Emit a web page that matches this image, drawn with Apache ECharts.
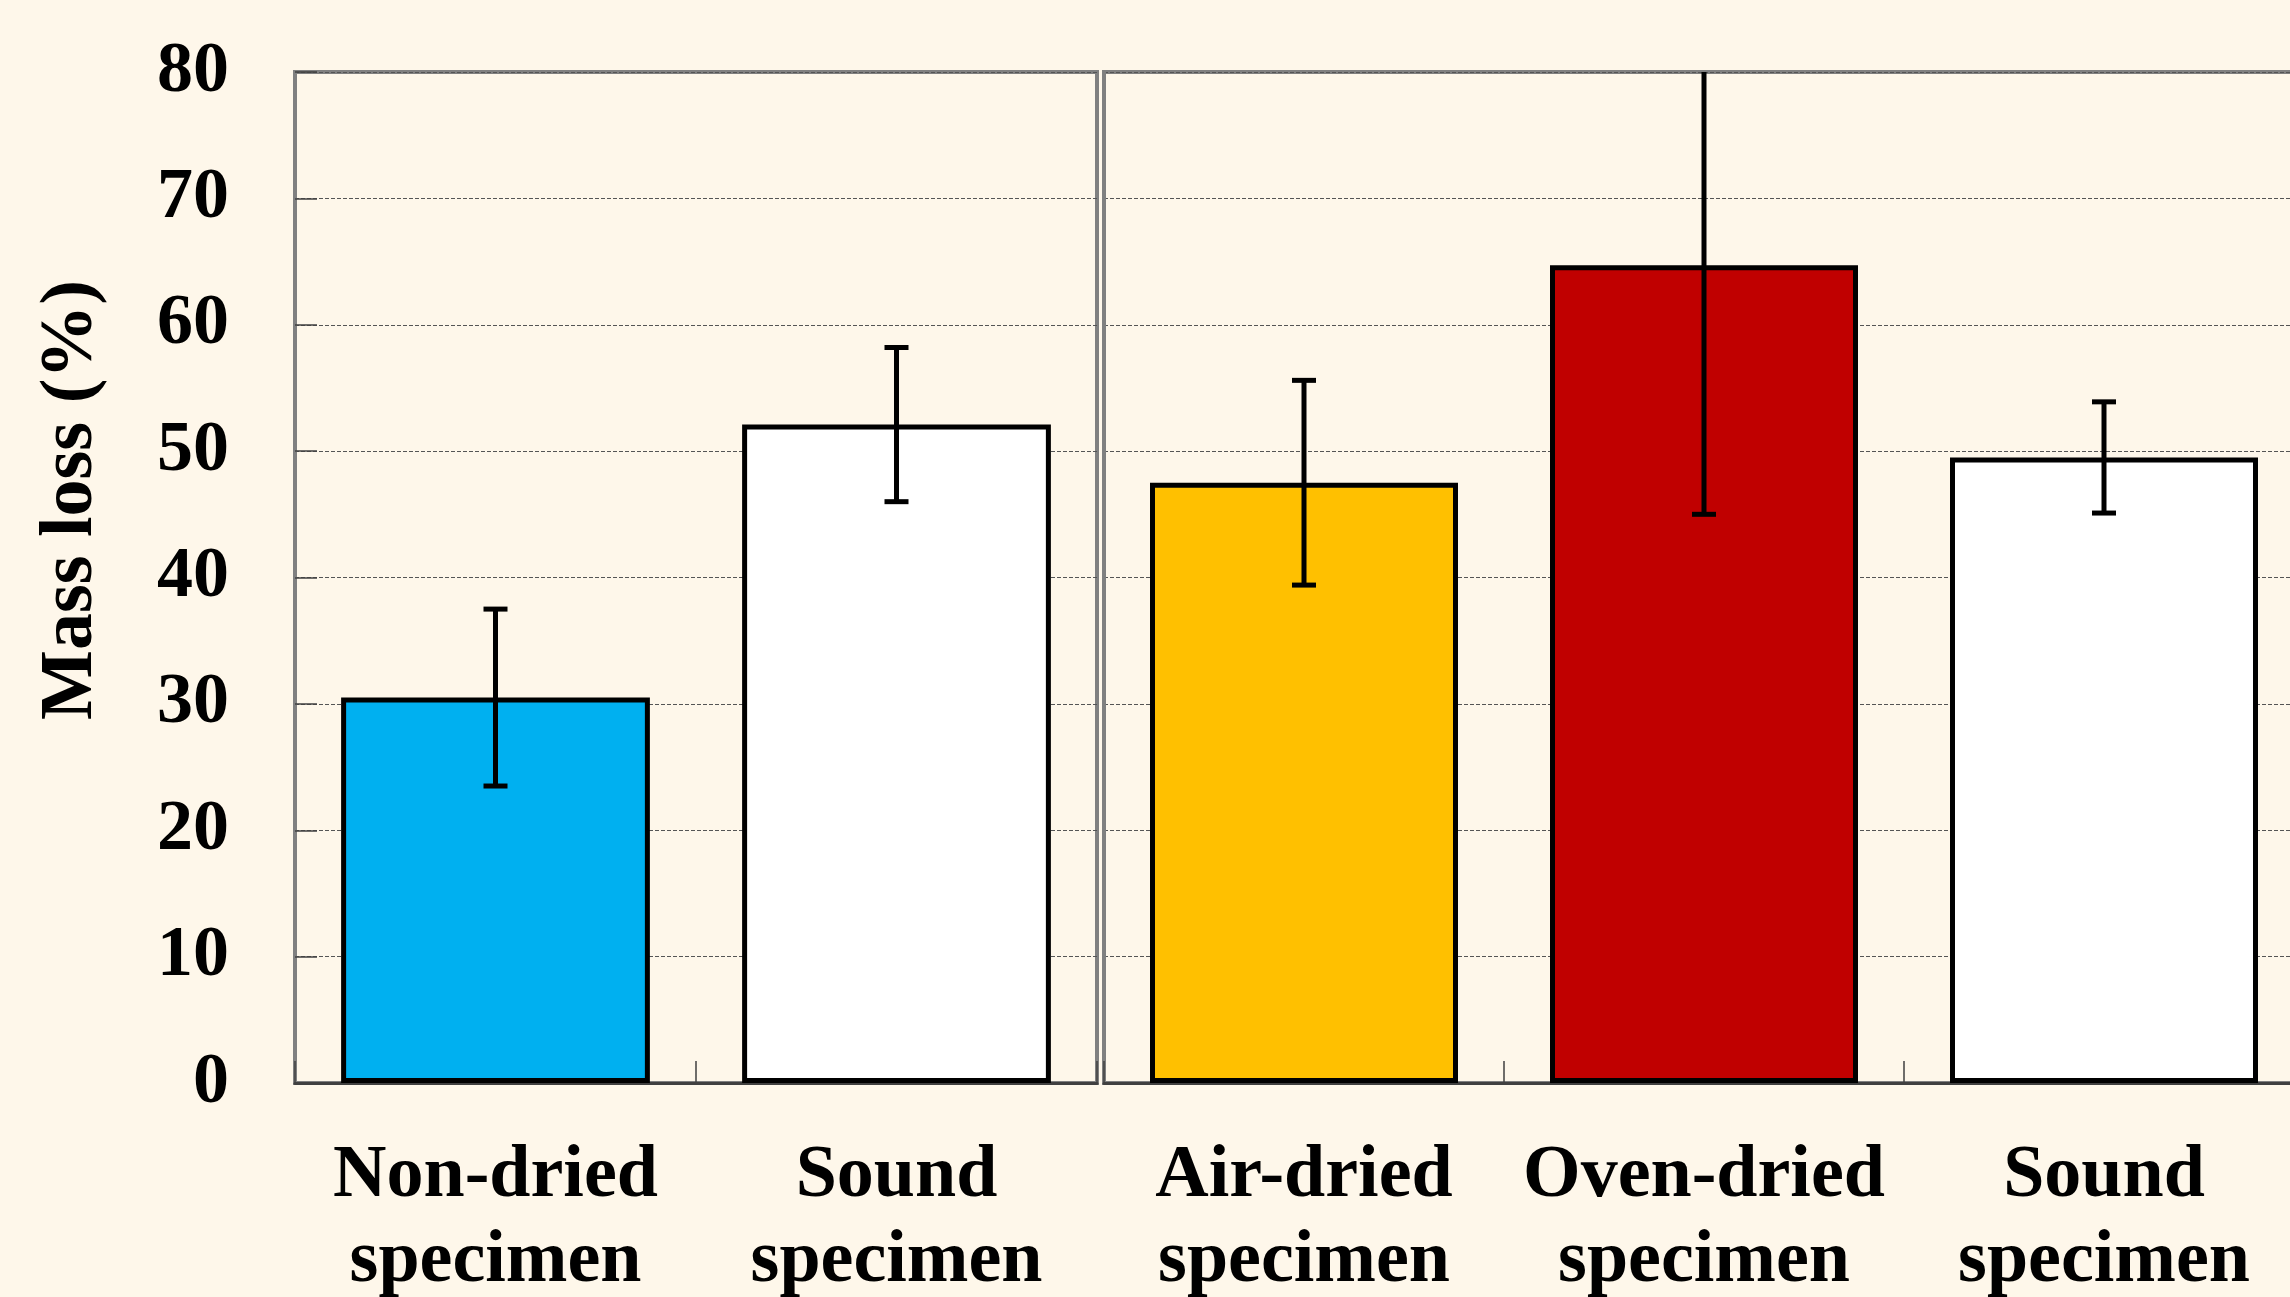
<!DOCTYPE html>
<html>
<head>
<meta charset="utf-8">
<script src="https://cdn.jsdelivr.net/npm/echarts@6/dist/echarts.min.js"></script>
<style>
html,body{margin:0;padding:0;background:#FEF7EA;}
#chart{width:2290px;height:1297px;}
</style>
</head>
<body>
<div id="chart"></div>
<script>
// ---- data ----
const leftCategories = ['Non-dried\nspecimen', 'Sound\nspecimen'];
const leftMeans = [30.5, 52.1];
const leftErrors = [7.0, 6.1];
const rightCategories = ['Air-dried\nspecimen', 'Oven-dried\nspecimen', 'Sound\nspecimen'];
const rightMeans = [47.5, 64.7, 49.5];
const rightErrors = [8.1, 19.7, 4.4];
const yMin = 0, yMax = 80, yStep = 10;
const yAxisTitle = 'Mass loss (%)';

// ---- styles ----
const leftColors = ['#00B0F0', '#FFFFFF'];
const rightColors = ['#FFC000', '#C00000', '#FFFFFF'];
const FONT = '"Liberation Serif", "Times New Roman", serif';
const BG = '#FEF7EA';

function barData(means, colors) {
  return means.map((v, i) => ({ value: v, itemStyle: { color: colors[i] } }));
}
function errData(means, errs) {
  return means.map((v, i) => [i, v - errs[i], v + errs[i]]);
}
function renderErr(params, api) {
  const x = api.value(0), lo = api.value(1), hi = api.value(2);
  const cs = params.coordSys;
  const pHi = api.coord([x, hi]);
  const pLo = api.coord([x, lo]);
  const hw = 12;
  const st = { stroke: '#000', lineWidth: 5 };
  const topY = Math.max(pHi[1], cs.y);
  const children = [
    { type: 'line', shape: { x1: pHi[0], y1: topY, x2: pLo[0], y2: pLo[1] }, style: st },
    { type: 'line', shape: { x1: pLo[0] - hw, y1: pLo[1], x2: pLo[0] + hw, y2: pLo[1] }, style: st }
  ];
  if (pHi[1] >= cs.y) {
    children.push({ type: 'line', shape: { x1: pHi[0] - hw, y1: pHi[1], x2: pHi[0] + hw, y2: pHi[1] }, style: st });
  }
  return { type: 'group', children: children };
}

const labelStyle = { fontFamily: FONT, fontWeight: 'bold', fontSize: 74, color: '#000' };

function xAxisCfg(gridIndex, cats) {
  return {
    type: 'category', gridIndex: gridIndex, data: cats,
    axisLine: { show: true, lineStyle: { color: '#404040', width: 3 } },
    axisTick: { show: true, inside: true, length: 22, lineStyle: { color: '#404040', width: 1.5 } },
    axisLabel: Object.assign({ interval: 0, margin: 51, lineHeight: 85 }, labelStyle)
  };
}
function yAxisCfg(gridIndex, showLabels) {
  return {
    type: 'value', gridIndex: gridIndex, min: yMin, max: yMax, interval: yStep,
    axisLine: { show: true, lineStyle: { color: '#808080', width: 3 } },
    axisTick: { show: showLabels, inside: true, length: 22, lineStyle: { color: '#404040', width: 1.5 } },
    axisLabel: { show: showLabels, margin: 66, fontSize: 72, fontFamily: FONT, fontWeight: 'bold', color: '#000' },
    splitLine: { show: true, lineStyle: { color: '#555', width: 1, type: [4, 2] } }
  };
}

const gridCommon = { top: 72, bottom: 214, show: true, borderColor: '#808080', borderWidth: 4,
  backgroundColor: 'transparent', containLabel: false, outerBoundsMode: 'none' };

const chart = echarts.init(document.getElementById('chart'), null, { renderer: 'canvas' });
chart.setOption({
  backgroundColor: BG,
  animation: false,
  grid: [
    Object.assign({ left: 295, width: 802 }, gridCommon),
    Object.assign({ left: 1104, width: 1200 }, gridCommon)
  ],
  xAxis: [xAxisCfg(0, leftCategories), xAxisCfg(1, rightCategories)],
  yAxis: [yAxisCfg(0, true), yAxisCfg(1, false)],
  graphic: [{
    type: 'text',
    x: 72, y: 500, rotation: Math.PI / 2,
    style: { text: yAxisTitle, fontFamily: FONT, fontWeight: 'bold', fontSize: 74, fill: '#000', textAlign: 'center', textVerticalAlign: 'middle' }
  }],
  series: [
    { type: 'bar', xAxisIndex: 0, yAxisIndex: 0, barCategoryGap: '23%', data: barData(leftMeans, leftColors),
      itemStyle: { borderColor: '#000', borderWidth: 5 } },
    { type: 'bar', xAxisIndex: 1, yAxisIndex: 1, barCategoryGap: '23%', data: barData(rightMeans, rightColors),
      itemStyle: { borderColor: '#000', borderWidth: 5 } },
    { type: 'custom', xAxisIndex: 0, yAxisIndex: 0, renderItem: renderErr, data: errData(leftMeans, leftErrors), z: 5,
      encode: { x: 0, y: [1, 2] } },
    { type: 'custom', xAxisIndex: 1, yAxisIndex: 1, renderItem: renderErr, data: errData(rightMeans, rightErrors), z: 5,
      encode: { x: 0, y: [1, 2] } }
  ]
});
</script>
</body>
</html>
